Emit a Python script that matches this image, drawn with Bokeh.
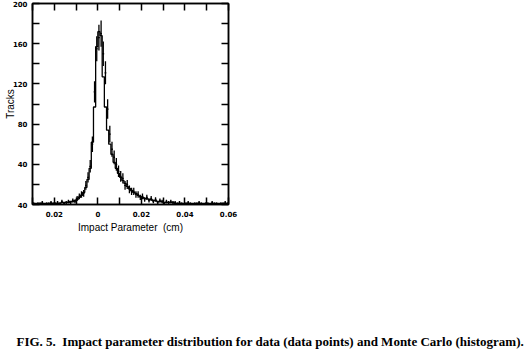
from bokeh.plotting import figure
from bokeh.models import FixedTicker, LinearAxis, Range1d, Title
from bokeh.layouts import column
from bokeh.embed import file_html
from bokeh.resources import INLINE
import numpy as np

# ---- data ----
bin_width = 0.001
x_lo = -0.030
mc_counts = [1, 1, 1, 1, 1, 1, 1, 1, 1, 1,
             1, 1, 1, 2, 2, 2, 2, 3, 3, 4,
             5, 7, 9, 12, 17, 25, 36, 62, 97, 157,
             172, 168, 127, 97, 74, 60, 50, 42, 36, 31,
             27, 24, 21, 18, 16, 14, 12, 11, 9, 8,
             7, 6, 6, 5, 5, 4, 4, 3, 3, 3,
             2, 2, 2, 2, 2, 1, 1, 1, 1, 1,
             1, 1, 1, 1, 1, 1, 1, 1, 1, 1,
             1, 1, 1, 1, 1, 1, 1, 1, 1, 1]
data_counts = [1, 0, 1, 1, 2, 0, 1, 1, 2, 1,
               1, 2, 1, 3, 1, 2, 3, 2, 4, 3,
               6, 8, 10, 11, 19, 27, 38, 60, 112, 155,
               166, 170, 150, 131, 95, 70, 55, 47, 40, 33,
               28, 26, 19, 20, 15, 13, 13, 10, 10, 7,
               8, 5, 7, 4, 6, 3, 5, 2, 4, 3,
               1, 3, 2, 3, 2, 2, 1, 2, 1, 0,
               1, 2, 1, 0, 1, 1, 2, 1, 0, 1,
               1, 0, 2, 1, 1, 0, 1, 1, 2, 1]
x_tick_vals = [-0.02, 0.0, 0.02, 0.04, 0.06]
x_tick_text = ["0.02", "0", "0.02", "0.04", "0.06"]
x_minor_vals = [-0.03, -0.01, 0.01, 0.03, 0.05]
y_tick_vals = [0, 40, 80, 120, 160, 200]
y_tick_text = ["40", "40", "80", "120", "160", "200"]
y_minor_vals = [20, 60, 100, 140, 180]
x_title = "Impact Parameter \u00a0(cm)"
y_title = "Tracks"
caption = "FIG. 5.\u00a0 Impact parameter distribution for data (data points) and Monte Carlo (histogram)."

n = len(mc_counts)
edges = x_lo + bin_width * np.arange(n + 1)
centers = edges[:-1] + bin_width / 2
mc = np.array(mc_counts, dtype=float)
dat = np.array(data_counts, dtype=float)
err = np.sqrt(dat)

p = figure(width=532, height=240, output_backend="svg", toolbar_location=None,
           x_range=Range1d(-0.03, 0.06), y_range=Range1d(0, 200),
           min_border_left=32, min_border_right=304, min_border_top=3,
           min_border_bottom=36, background_fill_color="white",
           border_fill_color="white", outline_line_color="black",
           outline_line_width=1.5)
p.grid.visible = False
p.xaxis.visible = False
p.yaxis.visible = False

tick_font = "DejaVu Sans"

def style_axis(ax, labels):
    ax.axis_line_color = "black"
    ax.axis_line_width = 1.5
    ax.major_tick_in = 7
    ax.major_tick_out = 0
    ax.minor_tick_in = 7
    ax.minor_tick_out = 0
    ax.major_tick_line_width = 1.5
    ax.minor_tick_line_width = 1.5
    ax.major_label_text_font = tick_font
    ax.major_label_text_font_style = "bold"
    ax.major_label_text_font_size = "7px"
    ax.major_label_text_color = "black"
    ax.major_label_overrides = labels
    ax.axis_label_text_font = "Liberation Sans"
    ax.axis_label_text_font_style = "normal"
    ax.axis_label_text_font_size = "10px"
    ax.axis_label_text_color = "black"

bx = LinearAxis(ticker=FixedTicker(ticks=x_tick_vals, minor_ticks=x_minor_vals),
                axis_label=x_title)
style_axis(bx, {v: t for v, t in zip(x_tick_vals, x_tick_text)})
bx.major_label_standoff = 6
bx.axis_label_standoff = 2
p.add_layout(bx, "below")

tx = LinearAxis(ticker=FixedTicker(ticks=x_tick_vals, minor_ticks=x_minor_vals))
style_axis(tx, {v: "" for v in x_tick_vals})
p.add_layout(tx, "above")

ly = LinearAxis(ticker=FixedTicker(ticks=y_tick_vals, minor_ticks=y_minor_vals),
                axis_label=y_title)
style_axis(ly, {v: t for v, t in zip(y_tick_vals, y_tick_text)})
ly.major_label_standoff = 5
ly.axis_label_standoff = -6
p.add_layout(ly, "left")

ry = LinearAxis(ticker=FixedTicker(ticks=y_tick_vals, minor_ticks=y_minor_vals))
style_axis(ry, {v: "" for v in y_tick_vals})
p.add_layout(ry, "right")

# Monte Carlo histogram
p.step(x=list(edges), y=list(mc) + [mc[-1]], mode="after",
       line_color="black", line_width=1.3)

# data points with error bars
p.segment(x0=centers, y0=dat - err, x1=centers, y1=dat + err,
          line_color="black", line_width=1.3)
p.segment(x0=centers - bin_width * 0.4, y0=dat, x1=centers + bin_width * 0.4, y1=dat,
          line_color="black", line_width=1.3)

# caption strip underneath
c = figure(width=532, height=113, output_backend="svg", toolbar_location=None,
           x_range=Range1d(0, 1), y_range=Range1d(0, 1),
           min_border_left=0, min_border_right=0, min_border_top=0,
           min_border_bottom=0, outline_line_color=None,
           background_fill_color="white", border_fill_color="white")
c.axis.visible = False
c.grid.visible = False
cap = Title(text=caption, align="left", vertical_align="middle", offset=-16,
            standoff=8, text_font="Liberation Serif", text_font_style="bold",
            text_font_size="13px", text_color="black")
c.add_layout(cap, "below")

layout = column(p, c, spacing=0)
open("out.html", "w").write(file_html(layout, INLINE))
